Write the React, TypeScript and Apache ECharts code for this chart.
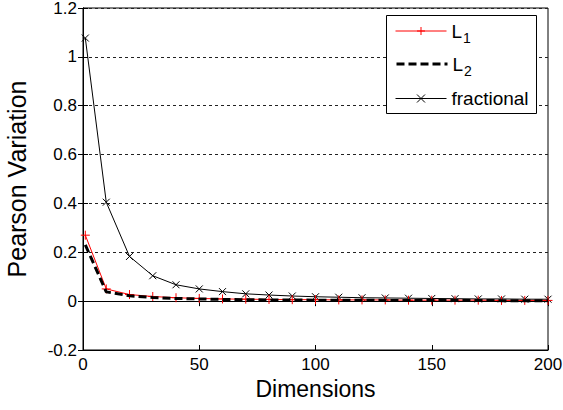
import React, { useEffect, useRef } from "react";
import * as echarts from "echarts";

const dims = [1, 10, 20, 30, 40, 50, 60, 70, 80, 90, 100, 110, 120, 130, 140, 150, 160, 170, 180, 190, 200];
const l1 = [0.27, 0.05, 0.027, 0.019, 0.014, 0.011, 0.009, 0.008, 0.007, 0.006, 0.006, 0.005, 0.005, 0.005, 0.004, 0.004, 0.004, 0.004, 0.003, 0.003, 0.003];
const l2 = [0.23, 0.038, 0.022, 0.015, 0.011, 0.009, 0.007, 0.006, 0.005, 0.005, 0.004, 0.004, 0.004, 0.003, 0.003, 0.003, 0.003, 0.003, 0.002, 0.002, 0.002];
const frac = [1.077, 0.405, 0.183, 0.104, 0.067, 0.05, 0.039, 0.03, 0.025, 0.021, 0.018, 0.016, 0.014, 0.013, 0.012, 0.011, 0.01, 0.009, 0.009, 0.008, 0.008];
const seriesNames = ["L1", "L2", "fractional"];
const legendTops = [17, 50, 89];

const FONT = "'Liberation Sans', Arial, sans-serif";
const plusPath = "path://M0,5L10,5M5,0L5,10";
const crossPath = "path://M0,0L10,10M10,0L0,10";

export default function App() {
  const ref = useRef<HTMLDivElement>(null);
  useEffect(() => {
    const chart = echarts.init(ref.current!, undefined, { renderer: "svg" });
    const pair = (ys: number[]) => dims.map((d, i) => [d, ys[i]]);
    const legendRich = {
      m: { fontSize: 19, fontFamily: FONT, color: "#000", lineHeight: 20 },
      s: { fontSize: 14, fontFamily: FONT, color: "#000", lineHeight: 20, padding: [14, 0, 0, 1] },
    };
    const legendItem = (n: string) => {
      if (n === "L1") return { name: n, lineStyle: { width: 1, color: "#ff0000" }, itemStyle: { borderWidth: 1 } };
      if (n === "L2") return { name: n, lineStyle: { width: 3, color: "#000", type: [8, 4] }, itemStyle: { opacity: 0 } };
      return { name: n, lineStyle: { width: 1, color: "#000" }, itemStyle: { borderWidth: 1 } };
    };
    const legends = seriesNames.map((n, i) => ({
      left: 395,
      top: legendTops[i],
      orient: "vertical",
      padding: 0,
      itemWidth: 51,
      itemHeight: 10,
      z: 60,
      data: [legendItem(n)],
      selectedMode: false,
      formatter: (nm: string) => (nm === "L1" ? "{m|L}{s|1}" : nm === "L2" ? "{m|L}{s|2}" : "{m|fractional}"),
      textStyle: { fontFamily: FONT, color: "#000", rich: legendRich },
    }));
    chart.setOption({
      animation: false,
      backgroundColor: "#fff",
      textStyle: { fontFamily: FONT },
      grid: {
        left: 83,
        right: 15,
        top: 8,
        bottom: 60,
        show: true,
        borderColor: "#000",
        borderWidth: 1,
        outerBoundsMode: "none",
        containLabel: false,
      },
      graphic: [
        {
          type: "rect",
          left: 386,
          top: 15,
          shape: { width: 150, height: 98 },
          style: { fill: "#fff", stroke: "#000", lineWidth: 1 },
          z: 50,
        },
      ],
      legend: legends,
      xAxis: [
        {
          type: "value",
          min: 0,
          max: 200,
          interval: 50,
          name: "Dimensions",
          nameLocation: "middle",
          nameGap: 27,
          nameTextStyle: { fontSize: 23, color: "#000", fontFamily: FONT },
          axisLine: { onZero: false, lineStyle: { color: "#000" } },
          axisTick: { inside: true, length: 5, lineStyle: { color: "#000" } },
          axisLabel: { fontSize: 17, color: "#000", margin: 6, fontFamily: FONT },
          splitLine: { show: false },
        },
        {
          type: "value",
          position: "top",
          min: 0,
          max: 200,
          interval: 50,
          axisLine: { lineStyle: { color: "#000" } },
          axisTick: { inside: true, length: 5, lineStyle: { color: "#000" } },
          axisLabel: { show: false },
          splitLine: { show: false },
        },
      ],
      yAxis: [
        {
          type: "value",
          min: -0.2,
          max: 1.2,
          interval: 0.2,
          name: "Pearson Variation",
          nameLocation: "middle",
          nameGap: 54,
          nameTextStyle: { fontSize: 25, color: "#000", fontFamily: FONT },
          axisLine: { onZero: false, lineStyle: { color: "#000" } },
          axisTick: { inside: true, length: 5, lineStyle: { color: "#000" } },
          axisLabel: { fontSize: 17, color: "#000", margin: 6, fontFamily: FONT },
          splitLine: { show: true, lineStyle: { color: "#222", type: [3, 3], width: 1 } },
        },
        {
          type: "value",
          position: "right",
          min: -0.2,
          max: 1.2,
          interval: 0.2,
          axisLine: { lineStyle: { color: "#000" } },
          axisTick: { inside: true, length: 5, lineStyle: { color: "#000" } },
          axisLabel: { show: false },
          splitLine: { show: false },
        },
      ],
      series: [
        {
          name: "L1",
          type: "line",
          data: pair(l1),
          symbol: plusPath,
          symbolSize: 9,
          lineStyle: { color: "#ff0000", width: 1 },
          itemStyle: { color: "#ff0000", borderColor: "#ff0000", borderWidth: 1 },
          z: 3,
        },
        {
          name: "L2",
          type: "line",
          data: pair(l2),
          symbol: "none",
          lineStyle: { color: "#000", width: 3, type: [8, 4] },
          itemStyle: { color: "#000" },
          z: 4,
        },
        {
          name: "fractional",
          type: "line",
          data: pair(frac),
          symbol: crossPath,
          symbolSize: 7,
          lineStyle: { color: "#000", width: 1 },
          itemStyle: { color: "#000", borderColor: "#000", borderWidth: 1 },
          z: 2,
        },
      ],
    });
    return () => chart.dispose();
  }, []);
  return <div ref={ref} style={{ position: "absolute", left: 0, top: 0, width: 563, height: 410 }} />;
}
